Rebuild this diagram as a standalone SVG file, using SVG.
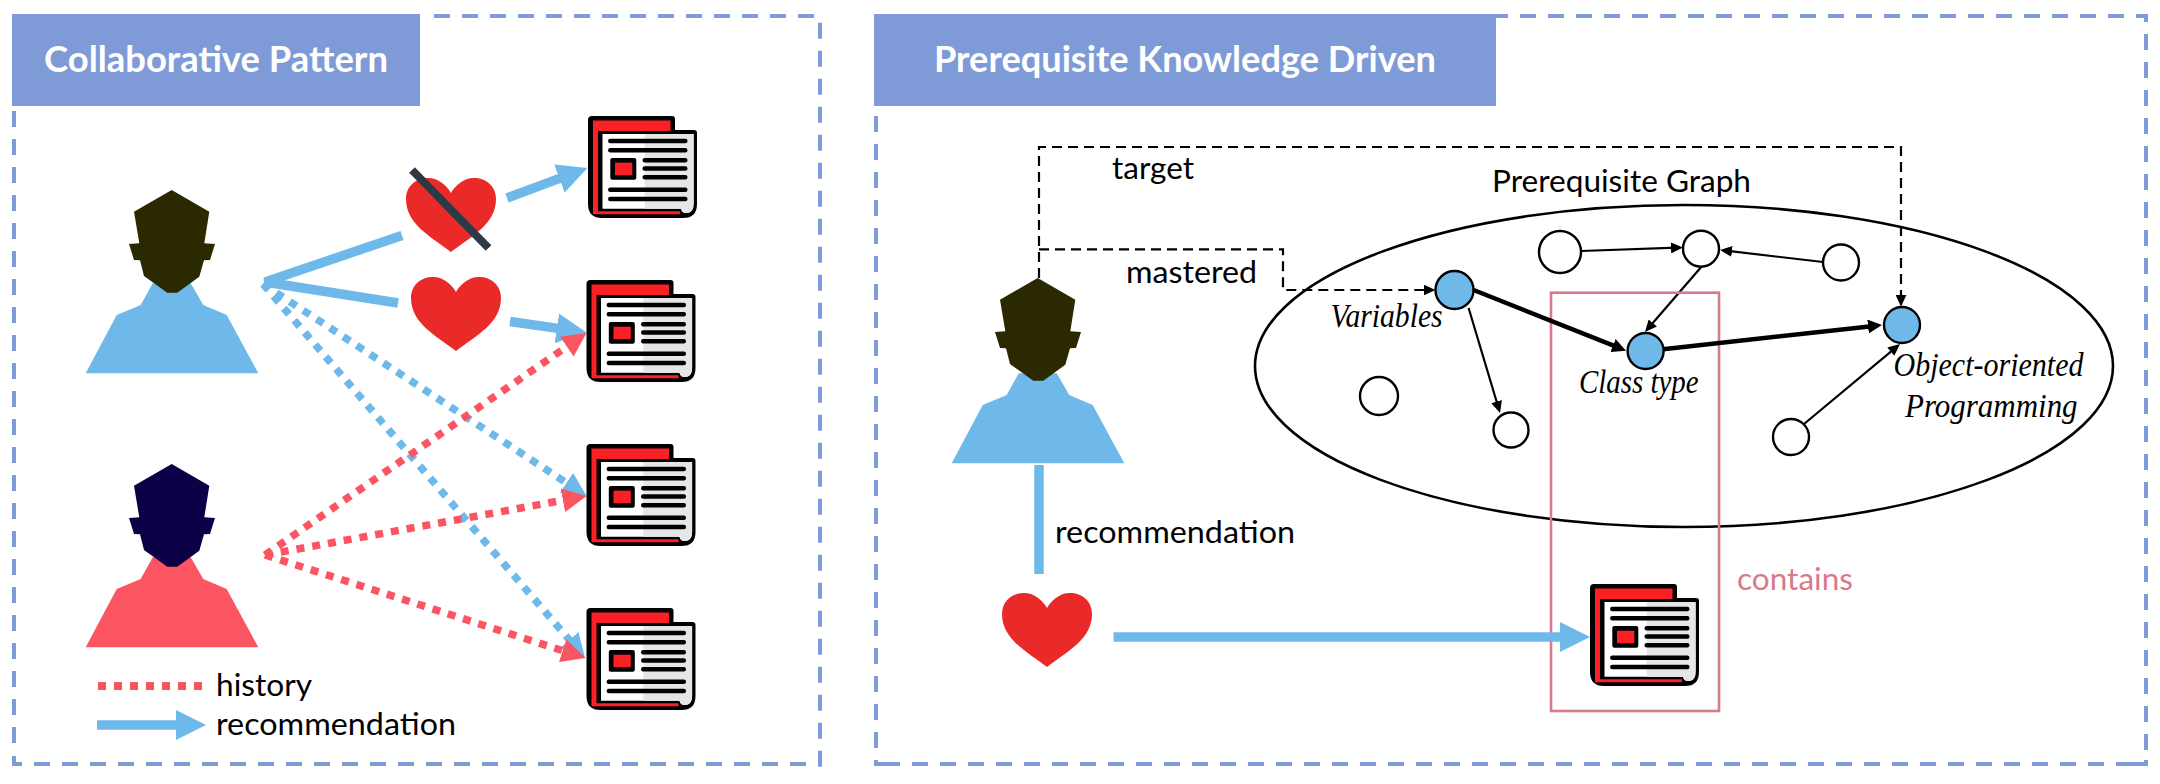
<svg xmlns="http://www.w3.org/2000/svg" width="2160" height="784" viewBox="0 0 2160 784">
<style>
text{font-family:"Lato","Open Sans","Liberation Sans",sans-serif;font-size:31px;fill:#000}
.title{font-weight:700;font-size:37px;fill:#fff}
.it{font-family:"Liberation Serif","DejaVu Serif",serif;font-style:italic;font-size:33px}
.pnl{fill:none;stroke:#7F9BD7;stroke-width:4;stroke-dasharray:16 12}
.pnls{fill:none;stroke:#7F9BD7;stroke-width:4}
.ttl{fill:#7F9BD7}
.rec{fill:none;stroke:#6FB8EA;stroke-width:9.5}
.recd{fill:none;stroke:#6FB8EA;stroke-width:7.5;stroke-dasharray:8 8}
.hisd{fill:none;stroke:#FA5560;stroke-width:7.5;stroke-dasharray:8 8}
.thin{fill:none;stroke:#000;stroke-width:2.2}
.thick{fill:none;stroke:#000;stroke-width:4.5}
.dash{fill:none;stroke:#000;stroke-width:2.2;stroke-dasharray:10 6}
.node{fill:#fff;stroke:#000;stroke-width:2.4}
.node.on{fill:#6FB8EA}
</style>
<defs>
<marker id="mRec" markerUnits="userSpaceOnUse" markerWidth="30" markerHeight="30" refX="1" refY="15" orient="auto"><path d="M0 0L30 15L0 30Z" fill="#6FB8EA"/></marker>
<marker id="mRecS" markerUnits="userSpaceOnUse" markerWidth="24" markerHeight="24" refX="1" refY="12" orient="auto"><path d="M0 0L24 12L0 24Z" fill="#6FB8EA"/></marker>
<marker id="mHisS" markerUnits="userSpaceOnUse" markerWidth="24" markerHeight="24" refX="1" refY="12" orient="auto"><path d="M0 0L24 12L0 24Z" fill="#FA5560"/></marker>
<marker id="mThin" markerUnits="userSpaceOnUse" markerWidth="12" markerHeight="11" refX="6" refY="5.5" orient="auto"><path d="M0 0L12 5.5L0 11Z" fill="#000"/></marker>
<marker id="mThick" markerUnits="userSpaceOnUse" markerWidth="14" markerHeight="14" refX="6" refY="7" orient="auto"><path d="M0 0L14 7L0 14Z" fill="#000"/></marker>
<g id="heart"><path d="M45 74C24 58 0 46 0 21C0 8 10 0 22 0C33 0 41 8 45 15C49 8 57 0 68 0C80 0 90 8 90 21C90 46 66 58 45 74Z" fill="#EA2A29"/></g>
<path id="body" d="M82.7 103.3L70.7 125L46.7 135L15.7 193.3H188.3L156.7 135L133.3 125L120.7 103.3Z"/>
<path id="head" d="M101.7 10L139.3 31.7L134.3 63.3L145 64L140 80L134 80.3L129.3 96.7L107.3 112.7H97.3L74 96L70 80.3L64 80L59 64L69.3 63.3L64 31.7Z"/>
<g id="paper">
<path d="M4 0H84Q87 0 87 3V14H106Q109 14 109 17V88Q109 102 95 102H14Q0 102 0 88V4Q0 0 4 0Z" fill="#000"/>
<path d="M5 4.5H82.5V15H10V95.3H92V98.3H5Z" fill="#F92126"/>
<path d="M14.5 18H105.6V88Q105.6 97 98 97Q94 97 93 92.7H14.5Z" fill="#fff"/>
<path d="M56.7 18H105.6V88Q105.6 97 98 97Q94 97 93 92.7H56.7Z" fill="#E6E6E6"/>
<path d="M22.3 25H97.3M22.3 34.3H97.3M56.7 44.3H97.3M56.7 52.5H97.3M56.7 61.3H97.3M22.3 73.7H97.3M22.3 83H97.3" stroke="#000" stroke-width="4.5" stroke-linecap="round" fill="none"/>
<rect x="22.3" y="42" width="26" height="21.7" rx="2" fill="#000"/>
<rect x="27" y="46.7" width="17.3" height="12.5" fill="#F92126"/>
</g>
</defs>

<g id="panel-left">
<path class="pnl" d="M434 16H816M820 22.7V770M806 764H14M14 743V110"/>
<path class="pnls" d="M14 756V764H21"/>
<rect class="ttl" x="12" y="14" width="408" height="92"/>
<text class="title" x="44" y="72" textLength="344" lengthAdjust="spacingAndGlyphs">Collaborative Pattern</text>
</g>
<g id="panel-right">
<path class="pnl" d="M1520 16H2136M2146 34V750M2132 764H888M876 748V116"/>
<path class="pnls" d="M1496 16H1508M2136 16H2146V22M2146 760V764H2132M876 760V764H888"/>
<rect class="ttl" x="874" y="14" width="622" height="92"/>
<text class="title" x="934" y="72" textLength="502" lengthAdjust="spacingAndGlyphs">Prerequisite Knowledge Driven</text>
</g>

<g id="graph-ellipse"><ellipse cx="1684" cy="366" rx="429" ry="161" fill="#fff" stroke="#000" stroke-width="2.6"/></g>

<g id="connectors">
<path class="rec" d="M402 235.5L265 282L398 303"/>
<path class="rec" d="M507 198L560.3 178.1" marker-end="url(#mRec)"/>
<path class="rec" d="M510 321.5L557.8 328.4" marker-end="url(#mRec)"/>
<path class="recd" d="M263 284L567.3 483.4" marker-end="url(#mRecS)"/>
<path class="recd" d="M263 284L570 640.6" marker-end="url(#mRecS)"/>
<path class="hisd" d="M265 555L567.6 346.1" marker-end="url(#mHisS)"/>
<path class="hisd" d="M265 555L563.9 500.1" marker-end="url(#mHisS)"/>
<path class="hisd" d="M265 555L563.6 651" marker-end="url(#mHisS)"/>
<path class="hisd" d="M98 686H203" style="stroke-width:8"/>
<path class="rec" d="M97 725H177" marker-end="url(#mRec)"/>
<path class="rec" d="M1039 465V574"/>
<path class="dash" d="M1039 278V147H1901V300.7" marker-end="url(#mThin)"/>
<path class="dash" d="M1039 249.3H1283V290H1429.5" marker-end="url(#mThin)"/>
<path class="thin" d="M1581 251L1677 247.7" marker-end="url(#mThin)"/>
<path class="thin" d="M1823 262L1726 250.7" marker-end="url(#mThin)"/>
<path class="thin" d="M1701 267.3L1648.9 327.5" marker-end="url(#mThin)"/>
<path class="thin" d="M1468.6 308L1498.3 407.3" marker-end="url(#mThin)"/>
<path class="thin" d="M1804 424L1895.4 347.8" marker-end="url(#mThin)"/>
<rect x="1551" y="292.7" width="168" height="418.3" fill="none" stroke="#D87A8A" stroke-width="2.6"/>
<path class="thick" d="M1473.6 290L1618.6 347.7" marker-end="url(#mThick)"/>
<path class="thick" d="M1663 349.3L1874 325.9" marker-end="url(#mThick)"/>
<path class="rec" d="M1113.5 637H1561" marker-end="url(#mRec)"/>
</g>

<g id="user-a"><use href="#body" x="70" y="180" fill="#6FB8EA"/><use href="#head" x="70" y="180" fill="#2B2900"/></g>
<g id="user-b"><use href="#body" x="70" y="454" fill="#FA5560"/><use href="#head" x="70" y="454" fill="#0C0046"/></g>
<g id="user-c"><use href="#body" x="936" y="270" fill="#6FB8EA"/><use href="#head" x="936" y="268" fill="#2B2900"/></g>

<g id="heart-crossed"><use href="#heart" x="406" y="178"/><path d="M412 170L488.5 248" stroke="#2D3A45" stroke-width="8" fill="none"/></g>
<g id="heart-a"><use href="#heart" x="411" y="277"/></g>
<g id="heart-b"><use href="#heart" x="1002" y="593"/></g>

<g id="paper-1"><use href="#paper" x="588" y="116"/></g>
<g id="paper-2"><use href="#paper" x="586.5" y="280"/></g>
<g id="paper-3"><use href="#paper" x="586.5" y="444"/></g>
<g id="paper-4"><use href="#paper" x="586.5" y="608"/></g>
<g id="paper-5"><use href="#paper" x="1590" y="584"/></g>

<g id="node-variables"><circle class="node on" cx="1454.5" cy="290" r="19"/></g>
<g id="node-classtype"><circle class="node on" cx="1645.6" cy="351" r="18"/></g>
<g id="node-oop"><circle class="node on" cx="1902" cy="325" r="18"/></g>
<g id="node-a"><circle class="node" cx="1560" cy="252" r="21"/></g>
<g id="node-b"><circle class="node" cx="1701" cy="248.7" r="18"/></g>
<g id="node-c"><circle class="node" cx="1841" cy="262.5" r="18"/></g>
<g id="node-d"><circle class="node" cx="1379" cy="396" r="19"/></g>
<g id="node-e"><circle class="node" cx="1511" cy="430" r="17.5"/></g>
<g id="node-f"><circle class="node" cx="1791" cy="437" r="18"/></g>

<g id="labels">
<text x="216" y="696" textLength="96" lengthAdjust="spacingAndGlyphs">history</text>
<text x="216" y="735" textLength="240" lengthAdjust="spacingAndGlyphs">recommendation</text>
<text x="1112" y="179" textLength="82" lengthAdjust="spacingAndGlyphs">target</text>
<text x="1126" y="282.7" textLength="131" lengthAdjust="spacingAndGlyphs">mastered</text>
<text x="1492" y="191.7" textLength="259" lengthAdjust="spacingAndGlyphs">Prerequisite Graph</text>
<text x="1055" y="543" textLength="240" lengthAdjust="spacingAndGlyphs">recommendation</text>
<text x="1737" y="590" textLength="116" lengthAdjust="spacingAndGlyphs" style="fill:#D87A8A">contains</text>
<text class="it" x="1330.6" y="326.7" textLength="112" lengthAdjust="spacingAndGlyphs">Variables</text>
<text class="it" x="1579" y="392.7" textLength="119.6" lengthAdjust="spacingAndGlyphs">Class type</text>
<text class="it" x="1893.5" y="376" textLength="190" lengthAdjust="spacingAndGlyphs">Object-oriented</text>
<text class="it" x="1905" y="416.7" textLength="172.6" lengthAdjust="spacingAndGlyphs">Programming</text>
</g>
</svg>
